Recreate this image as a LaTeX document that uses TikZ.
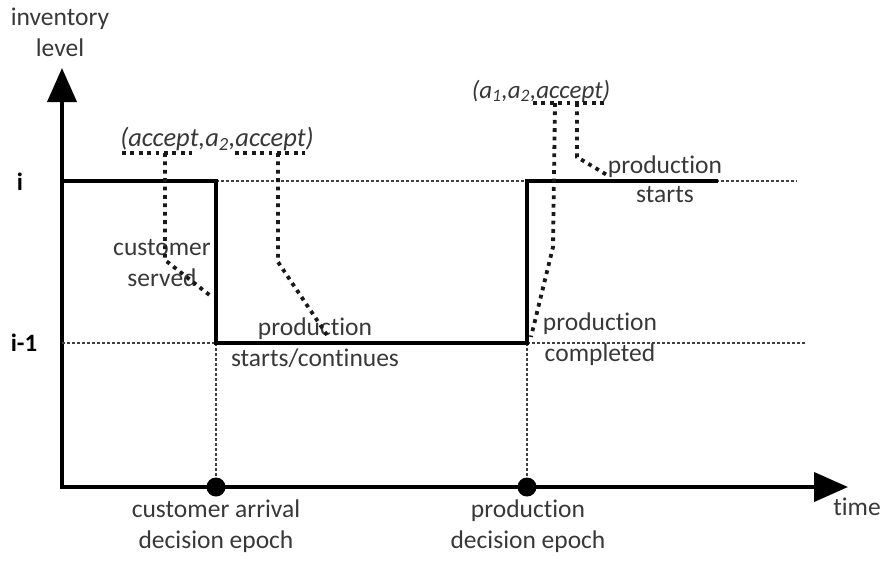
\documentclass[tikz,border=0pt]{standalone}
\usepackage{fontspec}
\setmainfont{Carlito}[Ligatures={NoCommon}]
\usetikzlibrary{arrows.meta}
\definecolor{ink}{rgb}{0.22,0.22,0.22}
\begin{document}
\begin{tikzpicture}[x=1pt,y=-1pt,
  lbl/.style={text=ink,font=\fontsize{25.5}{31}\selectfont,inner sep=0pt,align=center},
  lvl/.style={text=black,font=\fontsize{25}{31}\selectfont\bfseries,inner sep=0pt},
  axisline/.style={line width=4pt,line join=miter,
    {Triangle[length=34pt,width=29pt]}-{Triangle[length=34pt,width=29pt]}},
  stepline/.style={line width=4.5pt,line join=miter},
  guide/.style={line width=1.1pt,draw=black!75,dash pattern=on 3pt off 2pt},
  leader/.style={line width=3.8pt,draw=black!90,dash pattern=on 3.8pt off 4.6pt},
  epoch/.style={circle,fill=black,inner sep=0pt,minimum size=19pt}]
\useasboundingbox (0,0) rectangle (885,560);

% axes
\coordinate (ytip) at (62,68);
\coordinate (origin) at (62,487);
\coordinate (xtip) at (848,487);
\draw[axisline] (ytip) -- (origin) -- (xtip);

% inventory levels
\coordinate (hiL) at (62,181);
\coordinate (hiA) at (216,181);
\coordinate (loA) at (216,343);
\coordinate (loB) at (527,343);
\coordinate (hiB) at (527,181);
\coordinate (hiC) at (718,181);
\coordinate (hiEnd) at (797,181);
\coordinate (loL) at (62,343);
\coordinate (loEnd) at (805,343);
\coordinate (tA) at (216,487);
\coordinate (tB) at (527,487);

\draw[guide] (hiA) -- (hiEnd);
\draw[guide] (loL) -- (loEnd);
\draw[guide] (loA) -- (tA);
\draw[guide] (loB) -- (tB);
\draw[stepline] (hiL) -- (hiA) -- (loA) -- (loB) -- (hiB) -- (hiC);

\node[epoch] (epA) at (tA) {};
\node[epoch] (epB) at (tB) {};

% axis texts
\node[lbl] (ylab1) at (60,19) {inventory};
\node[lbl] (ylab2) at (60,48) {level};
\node[lbl] (xlab) at (857,507) {time};
\node[lvl] (li) at (20,182) {i};
\node[lvl] (li1) at (24,343) {i-1};

% epoch labels
\node[lbl] (epAlab) at (216,526) {customer arrival\\decision epoch};
\node[lbl] (epBlab) at (528,526) {production\\decision epoch};

% action vectors
\node[lbl,font=\fontsize{26.5}{31}\selectfont\itshape] (actA) at (217,139)
  {(accept,a\textsubscript{2},accept)};
\node[lbl,font=\fontsize{25}{31}\selectfont\itshape] (actB) at (541,91)
  {(a\textsubscript{1},a\textsubscript{2},accept)};

% event labels
\node[lbl] (evServed) at (162,263) {customer\\served};
\node[lbl] (evCont) at (315,343) {production\\starts/continues};
\node[lbl] (evDone) at (600,339) {production\\completed};
\node[lbl,font=\fontsize{25.5}{29}\selectfont] (evStart) at (665,179) {production\\starts};

% leaders for the first action vector
\coordinate (uA1) at (122,153);
\coordinate (uA2) at (192,153);
\coordinate (uA3) at (235,153);
\coordinate (uA4) at (305,153);
\draw[leader] (uA1) -- (uA2);
\draw[leader] (uA3) -- (uA4);
\coordinate (pA1) at (165,153);
\coordinate (pA2) at (165,260);
\coordinate (pA3) at (212,297);
\draw[leader] (pA1) -- (pA2) -- (pA3);
\coordinate (pB1) at (278,153);
\coordinate (pB2) at (278,262);
\coordinate (pB3) at (327,335);
\draw[leader] (pB1) -- (pB2) -- (pB3);

% leaders for the second action vector
\coordinate (uB1) at (533,103);
\coordinate (uB2) at (605,103);
\draw[leader] (uB1) -- (uB2);
\coordinate (pC1) at (555,103);
\coordinate (pC2) at (553,247);
\coordinate (pC3) at (531,337);
\draw[leader] (pC1) -- (pC2) -- (pC3);
\coordinate (pD1) at (577,103);
\coordinate (pD2) at (577,157);
\coordinate (pD3) at (607,175);
\draw[leader] (pD1) -- (pD2) -- (pD3);
\end{tikzpicture}
\end{document}
